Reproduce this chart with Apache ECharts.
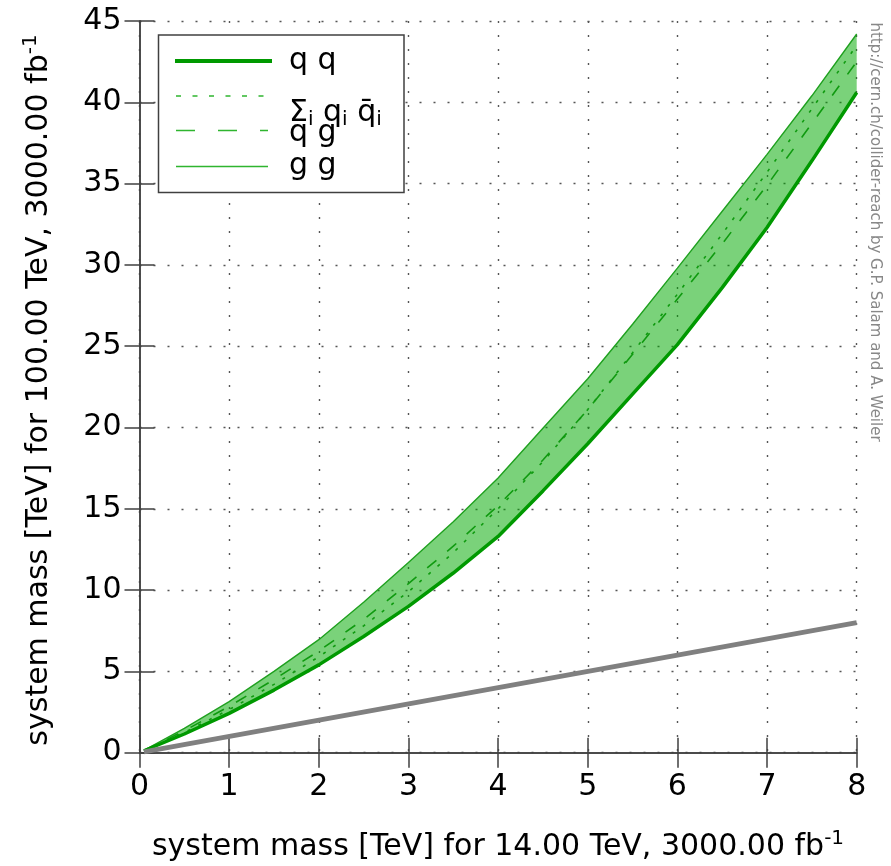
<!DOCTYPE html>
<html><head><meta charset="utf-8">
<script src="https://cdn.jsdelivr.net/npm/echarts@6/dist/echarts.min.js"></script>
<style>html,body{margin:0;padding:0;background:#fff}#c{width:891px;height:866px}</style>
</head><body><div id="c"></div>
<script>
// x positions (TeV at 14 TeV collider)
const xs = [0.05, 0.5, 1, 1.5, 2, 2.5, 3, 3.5, 4, 4.5, 5, 5.5, 6, 6.5, 7, 7.5, 8];
// system mass reach at 100 TeV
const qq   = [0.12, 1.15, 2.42, 3.85, 5.4, 7.15, 9.0, 11.05, 13.3, 16.1, 19.0, 22.05, 25.1, 28.6, 32.3, 36.4, 40.6];
const sumQQbar = [0.12, 1.25, 2.65, 4.2, 5.9, 7.8, 9.9, 12.3, 15.0, 17.9, 21.1, 24.6, 28.2, 31.9, 35.7, 39.6, 43.5];
const qg   = [0.13, 1.35, 2.85, 4.5, 6.25, 8.2, 10.4, 12.7, 15.2, 18.0, 21.1, 24.5, 27.9, 31.3, 34.9, 38.7, 42.5];
const gg   = [0.15, 1.5, 3.14, 5.0, 6.95, 9.25, 11.7, 14.2, 16.9, 19.95, 23.0, 26.35, 29.8, 33.3, 36.8, 40.4, 44.2];
const diagX = [0.05, 8];
const diagY = [0.05, 8];
const xTicks = [0, 1, 2, 3, 4, 5, 6, 7, 8];
const yTicks = [0, 5, 10, 15, 20, 25, 30, 35, 40, 45];

const pairs = (a, b) => a.map((v, i) => [v, b[i]]);
const FONT = 'DejaVu Sans';
const FS = 30;
const axisCol = '#404040';

const chart = echarts.init(document.getElementById('c'), null, {renderer: 'canvas'});
const gridLine = {show: true, lineStyle: {color: '#555', width: 1.4, type: [2, 12]}};
const option = {
  backgroundColor: '#fff',
  animation: false,
  grid: {left: 139.5, top: 21, right: 34.3, bottom: 113.3, show: false},
  xAxis: [
    {type: 'value', min: xTicks[0], max: xTicks[xTicks.length - 1], interval: 1, position: 'bottom',
     axisLine: {lineStyle: {color: axisCol, width: 1.5}},
     axisTick: {inside: true, length: 15, lineStyle: {color: axisCol, width: 1.5}},
     axisLabel: {fontFamily: FONT, fontSize: FS, color: '#000', margin: 20},
     splitLine: gridLine},
    {type: 'value', min: 0, max: 8, interval: 1, position: 'top',
     axisLine: {lineStyle: {color: axisCol, width: 1.5}},
     axisTick: {inside: true, length: 15, lineStyle: {color: axisCol, width: 1.5}},
     axisLabel: {show: false}, splitLine: {show: false}}
  ],
  yAxis: [
    {type: 'value', min: yTicks[0], max: yTicks[yTicks.length - 1], interval: 5, position: 'left',
     axisLine: {show: true, lineStyle: {color: axisCol, width: 1.5}},
     axisTick: {show: true, inside: true, length: 15, lineStyle: {color: axisCol, width: 1.5}},
     axisLabel: {fontFamily: FONT, fontSize: FS, color: '#000', margin: 18},
     splitLine: gridLine},
    {type: 'value', min: 0, max: 45, interval: 5, position: 'right',
     axisLine: {show: true, lineStyle: {color: axisCol, width: 1.5}},
     axisTick: {show: true, inside: true, length: 15, lineStyle: {color: axisCol, width: 1.5}},
     axisLabel: {show: false}, splitLine: {show: false}}
  ],
  series: [
    {type: 'custom', name: 'band', data: [0], z: 1,
     renderItem: function (params, api) {
       const pts = [];
       for (let i = 0; i < xs.length; i++) pts.push(api.coord([xs[i], gg[i]]));
       for (let i = xs.length - 1; i >= 0; i--) pts.push(api.coord([xs[i], qq[i]]));
       return {type: 'polygon', shape: {points: pts}, style: {fill: 'rgba(0,168,0,0.52)', stroke: null}};
     }},
    {type: 'line', name: 'g g', data: pairs(xs, gg), symbol: 'none', z: 3,
     lineStyle: {color: '#1fa01f', width: 1.4}},
    {type: 'line', name: 'q g', data: pairs(xs, qg), symbol: 'none', z: 3,
     lineStyle: {color: '#109a10', width: 1.6, type: [12, 14]}},
    {type: 'line', name: 'sum', data: pairs(xs, sumQQbar), symbol: 'none', z: 3,
     lineStyle: {color: '#109a10', width: 1.6, type: [3, 9]}},
    {type: 'line', name: 'q q', data: pairs(xs, qq), symbol: 'none', z: 4,
     lineStyle: {color: '#009900', width: 3.5}},
    {type: 'line', name: 'diag', data: pairs(diagX, diagY), symbol: 'none', z: 5,
     lineStyle: {color: '#808080', width: 5}}
  ],
  graphic: [
    // legend box
    {type: 'rect', shape: {x: 158.5, y: 35, width: 245.5, height: 157.5}, style: {fill: '#fff', stroke: axisCol, lineWidth: 1.5}, z: 50},
    {type: 'line', shape: {x1: 175, y1: 61, x2: 272, y2: 61}, style: {stroke: '#009900', lineWidth: 4}, z: 51},
    {type: 'line', shape: {x1: 176, y1: 96, x2: 264, y2: 96}, style: {stroke: '#2fb52f', lineWidth: 1.4, lineDash: [5, 11.5]}, z: 51},
    {type: 'line', shape: {x1: 176, y1: 130.5, x2: 268, y2: 130.5}, style: {stroke: '#2fb52f', lineWidth: 1.4, lineDash: [19, 23]}, z: 51},
    {type: 'line', shape: {x1: 176, y1: 166.5, x2: 268, y2: 166.5}, style: {stroke: '#2fb52f', lineWidth: 1.5}, z: 51},
    {type: 'text', x: 289, y: 61, z: 51, style: {text: 'q q', font: FS + 'px "DejaVu Sans"', fill: '#000', verticalAlign: 'middle'}},
    {type: 'text', x: 289, y: 113, z: 51, style: {text: 'Σ{sub|i} q{sub|i} q̄{sub|i}', font: FS + 'px "DejaVu Sans"', fill: '#000', verticalAlign: 'middle',
      rich: {sub: {fontSize: 20, fontFamily: FONT, fill: '#000', padding: [14, 0, 0, 0]}}}},
    {type: 'text', x: 289, y: 133, z: 52, style: {text: 'q g', font: FS + 'px "DejaVu Sans"', fill: '#000', verticalAlign: 'middle'}},
    {type: 'text', x: 289, y: 166, z: 51, style: {text: 'g g', font: FS + 'px "DejaVu Sans"', fill: '#000', verticalAlign: 'middle'}},
    // axis titles
    {type: 'text', x: 498, y: 847, z: 51, style: {text: 'system mass [TeV] for 14.00 TeV, 3000.00 fb{sup|-1}', font: FS + 'px "DejaVu Sans"', fill: '#000', align: 'center', verticalAlign: 'middle',
      rich: {sup: {fontSize: 20, fontFamily: FONT, fill: '#000', padding: [0, 0, 16, 0]}}}},
    {type: 'text', x: 39, y: 390, rotation: Math.PI / 2, z: 51, style: {text: 'system mass [TeV] for 100.00 TeV, 3000.00 fb{sup|-1}', font: FS + 'px "DejaVu Sans"', fill: '#000', align: 'center', verticalAlign: 'middle',
      rich: {sup: {fontSize: 20, fontFamily: FONT, fill: '#000', padding: [0, 0, 16, 0]}}}},
    // credit
    {type: 'text', x: 875, y: 232, rotation: -Math.PI / 2, z: 51, style: {text: 'http://cern.ch/collider-reach by G.P. Salam and A. Weiler', font: '15px "DejaVu Sans"', fill: '#888', align: 'center', verticalAlign: 'middle'}}
  ]
};
chart.setOption(option);
</script>
</body></html>
